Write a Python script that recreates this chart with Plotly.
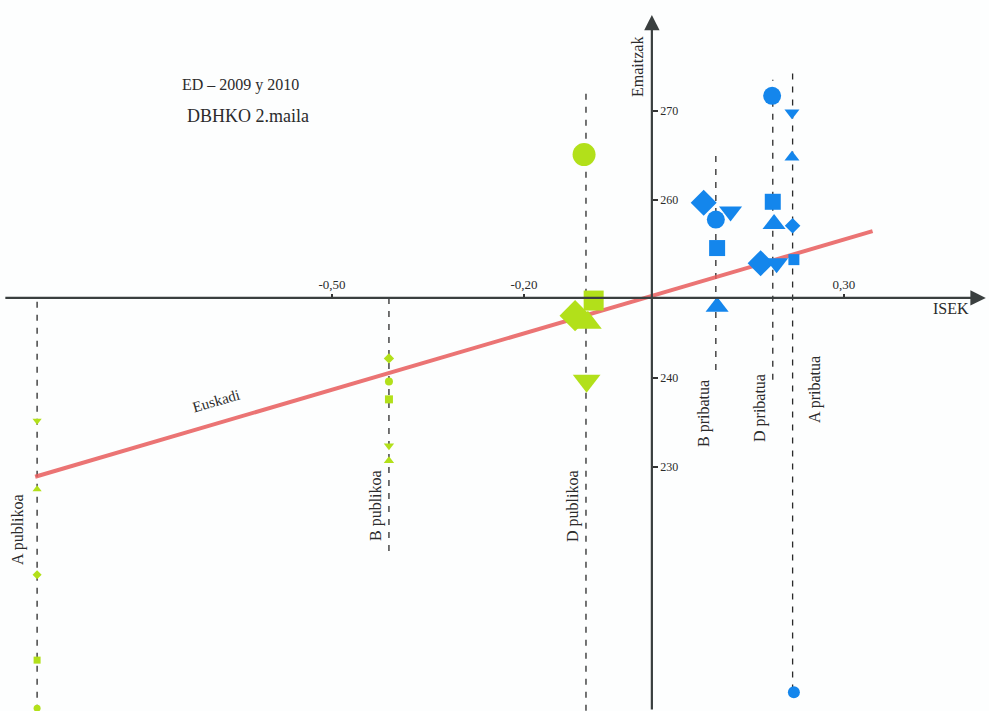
import plotly.graph_objects as go

# ---------------- data ----------------
groups = ["A publikoa", "B publikoa", "D publikoa", "B pribatua", "D pribatua", "A pribatua"]
symbols = ["circle", "square", "diamond", "triangle-up", "triangle-down"]

# ISEK (x) and Emaitzak (y) per group, in symbol order
a_pub_x = [-0.961, -0.961, -0.961, -0.961, -0.961]
a_pub_y = [202.9, 208.3, 217.9, 227.5, 235.2]
b_pub_x = [-0.411, -0.411, -0.411, -0.411, -0.411]
b_pub_y = [239.6, 237.6, 242.2, 230.7, 232.4]
d_pub_x = [-0.106, -0.091, -0.120, -0.100, -0.102]
d_pub_y = [265.1, 248.7, 247.0, 246.2, 239.7]
b_pri_x = [0.100, 0.102, 0.081, 0.102, 0.123]
b_pri_y = [257.8, 254.6, 259.7, 248.0, 258.7]
d_pri_x = [0.188, 0.189, 0.170, 0.191, 0.195]
d_pri_y = [271.7, 259.8, 252.9, 257.3, 252.9]
a_pri_x = [0.222, 0.222, 0.220, 0.219, 0.219]
a_pri_y = [204.7, 253.3, 257.1, 264.8, 269.8]

# dashed guide lines: x, y from, y to
guide_x = [-0.961, -0.411, -0.103, 0.100, 0.189, 0.220]
guide_y0 = [202.6, 249.0, 202.6, 240.9, 239.8, 204.9]
guide_y1 = [249.0, 220.1, 272.1, 265.6, 273.5, 274.3]

# Euskadi regression line
eus_x = [-0.964, 0.345]
eus_y = [228.9, 256.5]

x_tickvals = [-0.5, -0.2, 0.3]
x_ticktext = ["-0,50", "-0,20", "0,30"]
y_tickvals = [230, 240, 260, 270]
y_ticktext = ["230", "240", "260", "270"]

GREEN = "#b2e01a"
BLUE = "#1486ec"

X_RANGE = [-1.019, 0.527]
Y_RANGE = [202.584, 282.472]
X_CROSS = 249.0
Y_CROSS = 0.0

fig = go.Figure()

for gx, y0, y1 in zip(guide_x, guide_y0, guide_y1):
    fig.add_trace(go.Scatter(x=[gx, gx], y=[y0, y1], mode="lines",
                             line=dict(color="#2a2a2a", width=1.3, dash="6px,7px"),
                             hoverinfo="skip", showlegend=False, cliponaxis=False))

# Euskadi line
fig.add_trace(go.Scatter(x=eus_x, y=eus_y, mode="lines",
                         line=dict(color="#e85c5c", width=4), opacity=0.85,
                         hoverinfo="skip", showlegend=False))

series = [
    ("A publikoa", a_pub_x, a_pub_y, GREEN, [7, 7, 7, 8, 8]),
    ("B publikoa", b_pub_x, b_pub_y, GREEN, [8, 8, 8, 9, 9]),
    ("D publikoa", d_pub_x, d_pub_y, GREEN, [23, 20, 24, 24, 24]),
    ("B pribatua", b_pri_x, b_pri_y, BLUE, [18, 16, 20, 20, 20]),
    ("D pribatua", d_pri_x, d_pri_y, BLUE, [18, 16, 20, 20, 20]),
    ("A pribatua", a_pri_x, a_pri_y, BLUE, [12, 11, 12, 13, 13]),
]
for name, xs, ys, col, sizes in series:
    fig.add_trace(go.Scatter(x=xs, y=ys, mode="markers", name=name, cliponaxis=False,
                             marker=dict(symbol=symbols, size=sizes, color=col,
                                         opacity=1, line=dict(width=0)),
                             showlegend=False))

xpos = (X_CROSS - Y_RANGE[0]) / (Y_RANGE[1] - Y_RANGE[0])
ypos = (Y_CROSS - X_RANGE[0]) / (X_RANGE[1] - X_RANGE[0])

SERIF = "Liberation Serif"
TXT = "#2b2b2b"

fig.update_layout(
    width=989, height=711,
    margin=dict(l=0, r=0, t=0, b=0, pad=0, autoexpand=False),
    paper_bgcolor="#fdfefe", plot_bgcolor="#fdfefe",
    showlegend=False,
    font=dict(family=SERIF, color=TXT),
    xaxis=dict(range=X_RANGE, anchor="free", position=xpos, side="top",
               automargin=False, domain=[0, 1],
               showline=False, showgrid=False, zeroline=False,
               tickvals=x_tickvals, ticktext=x_ticktext, ticks="outside",
               ticklen=4, tickwidth=2, tickcolor="#333",
               tickfont=dict(family=SERIF, size=13, color=TXT)),
    yaxis=dict(range=Y_RANGE, anchor="free", position=ypos, side="right",
               automargin=False, domain=[0, 1],
               showline=False, showgrid=False, zeroline=False,
               tickvals=y_tickvals, ticktext=y_ticktext, ticks="outside",
               ticklen=5, tickwidth=2, tickcolor="#333",
               tickfont=dict(family=SERIF, size=12, color=TXT)),
)

# axes as arrows
fig.add_annotation(x=0.522, y=X_CROSS, ax=X_RANGE[0] + 0.006, ay=X_CROSS,
                   xref="x", yref="y", axref="x", ayref="y", text="",
                   showarrow=True, arrowhead=2, arrowsize=1.4, arrowwidth=2.2,
                   arrowcolor="#3a3f3f")
fig.add_annotation(x=Y_CROSS, y=280.8, ax=Y_CROSS, ay=Y_RANGE[0], xref="x", yref="y",
                   axref="x", ayref="y", text="", showarrow=True, arrowhead=2,
                   arrowsize=1.4, arrowwidth=2.2, arrowcolor="#3a3f3f")


def txt(x, y, s, size=15, angle=0):
    fig.add_annotation(x=x, y=y, xref="paper", yref="paper", text=s, showarrow=False,
                       textangle=angle, font=dict(family=SERIF, size=size, color=TXT),
                       xanchor="center", yanchor="middle")


def px(xp, yp):
    return xp / 989, 1 - yp / 711


for label, (xp, yp), size, ang in [
    ("ED – 2009 y 2010", (240, 85), 16, 0),
    ("DBHKO 2.maila", (248, 116), 18, 0),
    ("Emaitzak", (637, 67), 16, -90),
    ("ISEK", (951, 308), 16, 0),
    ("Euskadi", (216, 401), 15, -16),
    ("A publikoa", (18, 530), 16, -90),
    ("B publikoa", (376, 506), 16, -90),
    ("D publikoa", (573, 506), 16, -90),
    ("B pribatua", (704, 414), 16, -90),
    ("D pribatua", (760, 408), 16, -90),
    ("A pribatua", (815, 390), 16, -90),
]:
    ax_, ay_ = px(xp, yp)
    txt(ax_, ay_, label, size=size, angle=ang)

fig.write_html("out.html", config={"displayModeBar": False},
               post_script="document.body.style.margin='0';document.body.style.overflow='hidden';")
